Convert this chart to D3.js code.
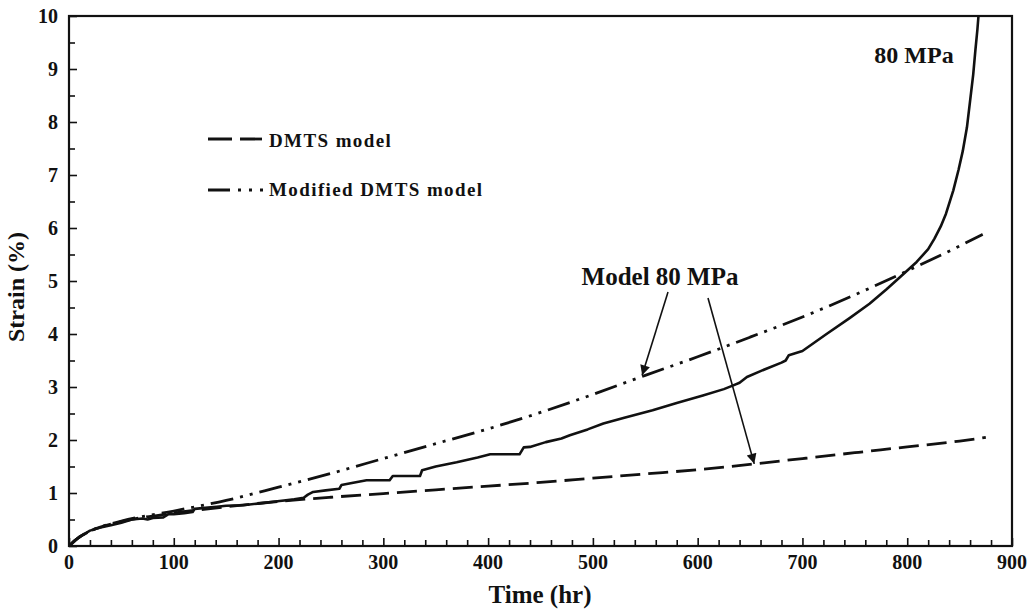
<!DOCTYPE html>
<html>
<head>
<meta charset="utf-8">
<script src="https://cdn.jsdelivr.net/npm/d3@7"></script>
<style>
  html, body { margin: 0; padding: 0; background: #fff; }
  svg text { font-family: "Liberation Serif", "Times New Roman", serif; font-weight: bold; fill: #111; }
</style>
</head>
<body>
<svg id="chart" width="1032" height="610"></svg>
<script>
// Creep test at 80 MPa: measured strain vs. time and two model predictions
const timeExp = [0, 5, 10, 20, 30, 40, 50, 60, 70, 75, 80, 90, 95, 100, 110, 118, 120, 130, 141, 150, 166, 180, 201, 215, 224, 228, 233, 245, 258, 260, 270, 284, 306, 309, 320, 335, 337, 350, 370, 390, 402, 430, 434, 440, 455, 470, 478, 495, 510, 530, 557, 580, 605, 625, 634, 640, 647, 660, 680, 684, 687, 700, 723, 745, 764, 780, 793, 809, 820, 826, 832, 837, 844, 849, 853, 857, 860, 863, 865, 867, 868];
const strainExp = [0, 0.1, 0.17, 0.29, 0.35, 0.39, 0.44, 0.5, 0.52, 0.5, 0.53, 0.54, 0.6, 0.6, 0.62, 0.64, 0.7, 0.72, 0.74, 0.76, 0.77, 0.8, 0.85, 0.88, 0.91, 0.97, 1.02, 1.05, 1.08, 1.15, 1.19, 1.24, 1.24, 1.32, 1.32, 1.32, 1.43, 1.5, 1.58, 1.67, 1.73, 1.73, 1.86, 1.87, 1.96, 2.03, 2.09, 2.2, 2.31, 2.42, 2.56, 2.7, 2.84, 2.96, 3.03, 3.08, 3.19, 3.3, 3.46, 3.5, 3.6, 3.68, 4.0, 4.3, 4.57, 4.84, 5.07, 5.36, 5.6, 5.8, 6.03, 6.27, 6.71, 7.1, 7.45, 7.9, 8.4, 8.9, 9.34, 9.75, 10.0];

const timeDMTS = [0, 10, 20, 50, 100, 150, 200, 250, 300, 350, 400, 450, 500, 550, 600, 650, 700, 750, 800, 850, 875];
const strainDMTS = [0, 0.17, 0.28, 0.46, 0.62, 0.74, 0.84, 0.92, 0.99, 1.06, 1.13, 1.2, 1.28, 1.36, 1.44, 1.54, 1.65, 1.76, 1.87, 1.98, 2.05];

const timeMod = [0, 10, 20, 50, 100, 150, 200, 250, 300, 350, 400, 450, 500, 550, 600, 650, 700, 750, 800, 850, 872];
const strainMod = [0, 0.17, 0.28, 0.47, 0.66, 0.86, 1.11, 1.37, 1.65, 1.93, 2.21, 2.52, 2.86, 3.22, 3.57, 3.94, 4.32, 4.74, 5.19, 5.66, 5.88];

const xTickLabels = [0, 100, 200, 300, 400, 500, 600, 700, 800, 900];
const yTickLabels = [0, 1, 2, 3, 4, 5, 6, 7, 8, 9, 10];

const legendLabels = ["DMTS model", "Modified DMTS model"];
const annotationText = "Model 80 MPa";
const curveLabel = "80 MPa";
const xTitle = "Time (hr)";
const yTitle = "Strain (%)";

const svg = d3.select("#chart");
const plotLeft = 69, plotRight = 1012, plotTop = 16, plotBottom = 546;

const x = d3.scaleLinear().domain([0, 900]).range([plotLeft, plotRight]);
const y = d3.scaleLinear().domain([0, 10]).range([plotBottom, plotTop]);

const g = svg.append("g");

// minor/major ticks drawn inward
const xAxis = d3.axisTop(x)
  .tickValues(d3.range(0, 901, 20))
  .tickSize(6)
  .tickFormat("");
g.append("g").attr("transform", `translate(0,${plotBottom})`).call(xAxis)
  .call(s => s.select(".domain").remove())
  .call(s => s.selectAll("line").attr("stroke", "#111").attr("stroke-width", 1.6)
    .attr("y2", d => d % 100 === 0 ? -8 : -6));

const yAxis = d3.axisRight(y)
  .tickValues(d3.range(0, 10.01, 0.5))
  .tickSize(6)
  .tickFormat("");
g.append("g").attr("transform", `translate(${plotLeft},0)`).call(yAxis)
  .call(s => s.select(".domain").remove())
  .call(s => s.selectAll("line").attr("stroke", "#111").attr("stroke-width", 1.6)
    .attr("x2", d => Number.isInteger(d) ? 8 : 6));

// tick labels
g.selectAll(".xlab").data(xTickLabels).join("text")
  .attr("x", d => x(d)).attr("y", 569)
  .attr("text-anchor", "middle").attr("font-size", 20)
  .text(d => d);
g.selectAll(".ylab").data(yTickLabels).join("text")
  .attr("x", 58).attr("y", d => y(d) + 7)
  .attr("text-anchor", "end").attr("font-size", 20)
  .text(d => d);

// frame
g.append("rect")
  .attr("x", plotLeft).attr("y", plotTop)
  .attr("width", plotRight - plotLeft).attr("height", plotBottom - plotTop)
  .attr("fill", "none").attr("stroke", "#111").attr("stroke-width", 2.2);

// axis titles
svg.append("text").attr("x", 540).attr("y", 603)
  .attr("text-anchor", "middle").attr("font-size", 25).text(xTitle);
svg.append("text")
  .attr("transform", "translate(24,287) rotate(-90)")
  .attr("text-anchor", "middle").attr("font-size", 24).text(yTitle);

svg.append("clipPath").attr("id", "plotclip")
  .append("rect").attr("x", plotLeft).attr("y", plotTop - 1)
  .attr("width", plotRight - plotLeft).attr("height", plotBottom - plotTop + 1);

const line = d3.line().x(d => x(d[0])).y(d => y(d[1])).curve(d3.curveLinear);
const smooth = d3.line().x(d => x(d[0])).y(d => y(d[1])).curve(d3.curveMonotoneX);

const plot = svg.append("g").attr("clip-path", "url(#plotclip)");

const dashDMTS = "20,8";
const dashMod = "23,7,3,7,3,7";

plot.append("path").datum(d3.zip(timeDMTS, strainDMTS))
  .attr("d", smooth).attr("fill", "none").attr("stroke", "#111")
  .attr("stroke-width", 2.8).attr("stroke-dasharray", dashDMTS);

plot.append("path").datum(d3.zip(timeMod, strainMod))
  .attr("d", smooth).attr("fill", "none").attr("stroke", "#111")
  .attr("stroke-width", 2.8).attr("stroke-dasharray", dashMod);

plot.append("path").datum(d3.zip(timeExp, strainExp))
  .attr("d", line).attr("fill", "none").attr("stroke", "#111")
  .attr("stroke-width", 2.6).attr("stroke-linejoin", "round");

// legend
const legend = svg.append("g");
const legendY = [139, 190];
legend.append("line").attr("x1", 208).attr("x2", 262).attr("y1", legendY[0]).attr("y2", legendY[0])
  .attr("stroke", "#111").attr("stroke-width", 2.8).attr("stroke-dasharray", "24,8");
legend.append("line").attr("x1", 208).attr("x2", 264).attr("y1", legendY[1]).attr("y2", legendY[1])
  .attr("stroke", "#111").attr("stroke-width", 2.8).attr("stroke-dasharray", "22,8,3,8,3,8,3,20");
legend.selectAll("text").data(legendLabels).join("text")
  .attr("x", 269).attr("y", (d, i) => legendY[i] + (i === 0 ? 8 : 6))
  .attr("font-size", 19).attr("letter-spacing", 1.4).text(d => d);

// annotations
svg.append("defs").append("marker")
  .attr("id", "arrow").attr("viewBox", "0 0 10 10")
  .attr("refX", 10).attr("refY", 5)
  .attr("markerWidth", 16).attr("markerHeight", 10)
  .attr("markerUnits", "userSpaceOnUse")
  .attr("orient", "auto")
  .append("path").attr("d", "M0,0 L10,5 L0,10 Z").attr("fill", "#111");

svg.append("text").attr("x", 660).attr("y", 285)
  .attr("text-anchor", "middle").attr("font-size", 25).text(annotationText);

const arrows = [
  { from: [668, 292], to: [x(547), y(3.22)] },
  { from: [708, 298], to: [x(654), y(1.55)] }
];
svg.selectAll(".arrow").data(arrows).join("line")
  .attr("x1", d => d.from[0]).attr("y1", d => d.from[1])
  .attr("x2", d => d.to[0]).attr("y2", d => d.to[1])
  .attr("stroke", "#111").attr("stroke-width", 1.6)
  .attr("marker-end", "url(#arrow)");

svg.append("text").attr("x", 914).attr("y", 63)
  .attr("text-anchor", "middle").attr("font-size", 24).text(curveLabel);
</script>
</body>
</html>
